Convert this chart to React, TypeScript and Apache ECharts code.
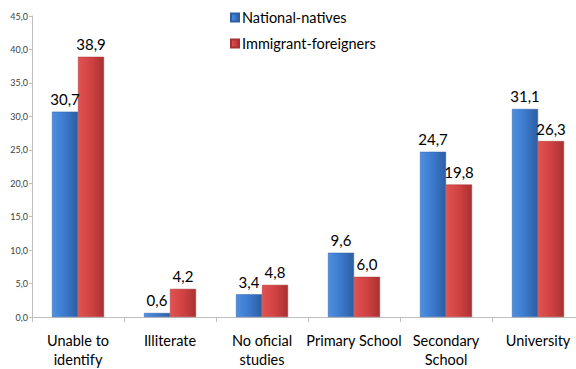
import React, { useEffect, useRef } from "react";
import * as echarts from "echarts";

const categories = [
  "Unable to\nidentify",
  "Illiterate",
  "No oficial\nstudies",
  "Primary School",
  "Secondary\nSchool",
  "University",
];
const nationalNatives = [30.7, 0.6, 3.4, 9.6, 24.7, 31.1];
const immigrantForeigners = [38.9, 4.2, 4.8, 6.0, 19.8, 26.3];

const fmt = (v: number) => v.toFixed(1).replace(".", ",");

const blueFill = new echarts.graphic.LinearGradient(0, 0, 1, 0, [
  { offset: 0, color: "#4f90e2" },
  { offset: 0.5, color: "#3b79cc" },
  { offset: 1, color: "#2d5ea2" },
]);
const redFill = new echarts.graphic.LinearGradient(0, 0, 1, 0, [
  { offset: 0, color: "#e25252" },
  { offset: 0.5, color: "#d04242" },
  { offset: 1, color: "#a93131" },
]);

export default function App() {
  const ref = useRef<HTMLDivElement>(null);
  useEffect(() => {
    if (!ref.current) return;
    const chart = echarts.init(ref.current, null, { renderer: "svg" });
    const font = "Lato, 'Liberation Sans', sans-serif";
    const valueLabel = {
      show: true,
      position: "top",
      distance: 5,
      fontSize: 15,
      color: "#000",
      formatter: (p: any) => fmt(p.value),
    };
    chart.setOption({
      animation: false,
      backgroundColor: "#ffffff",
      textStyle: { fontFamily: font },
      legend: {
        orient: "vertical",
        left: 225,
        top: 5,
        itemWidth: 8,
        itemHeight: 8,
        itemGap: 11,
        icon: "rect",
        textStyle: { fontSize: 14.5, color: "#000", fontFamily: font, padding: [0, 0, 0, -2] },
        data: ["National-natives", "Immigrant-foreigners"],
      },
      grid: { left: 32, top: 16, width: 552, height: 303, containLabel: false },
      xAxis: {
        type: "category",
        data: categories,
        axisLine: { lineStyle: { color: "#bfbfbf" } },
        axisTick: { show: true, length: 5, lineStyle: { color: "#bfbfbf" } },
        axisLabel: {
          interval: 0,
          fontSize: 14.5,
          color: "#000",
          margin: 14,
          lineHeight: 19,
          fontFamily: font,
        },
      },
      yAxis: {
        type: "value",
        min: 0,
        max: 45,
        interval: 5,
        splitLine: { show: false },
        axisLine: { show: true, lineStyle: { color: "#bfbfbf" } },
        axisTick: { show: true, length: 3, lineStyle: { color: "#bfbfbf" } },
        axisLabel: {
          fontSize: 9,
          color: "#404040",
          margin: 4,
          formatter: (v: number) => fmt(v),
        },
      },
      series: [
        {
          name: "National-natives",
          type: "bar",
          data: nationalNatives,
          barWidth: 26,
          barGap: "0%",
          itemStyle: { color: blueFill, borderColor: "#2f5f9f", borderWidth: 0.5 },
          label: valueLabel,
        },
        {
          name: "Immigrant-foreigners",
          type: "bar",
          data: immigrantForeigners,
          barWidth: 26,
          barGap: "0%",
          itemStyle: { color: redFill, borderColor: "#a83232", borderWidth: 0.5 },
          label: valueLabel,
        },
      ],
    });
    return () => chart.dispose();
  }, []);
  return (
    <div style={{ position: "absolute", left: 0, top: 0, width: 576, height: 369, overflow: "hidden" }}>
      <div ref={ref} style={{ width: 600, height: 369 }} />
    </div>
  );
}
